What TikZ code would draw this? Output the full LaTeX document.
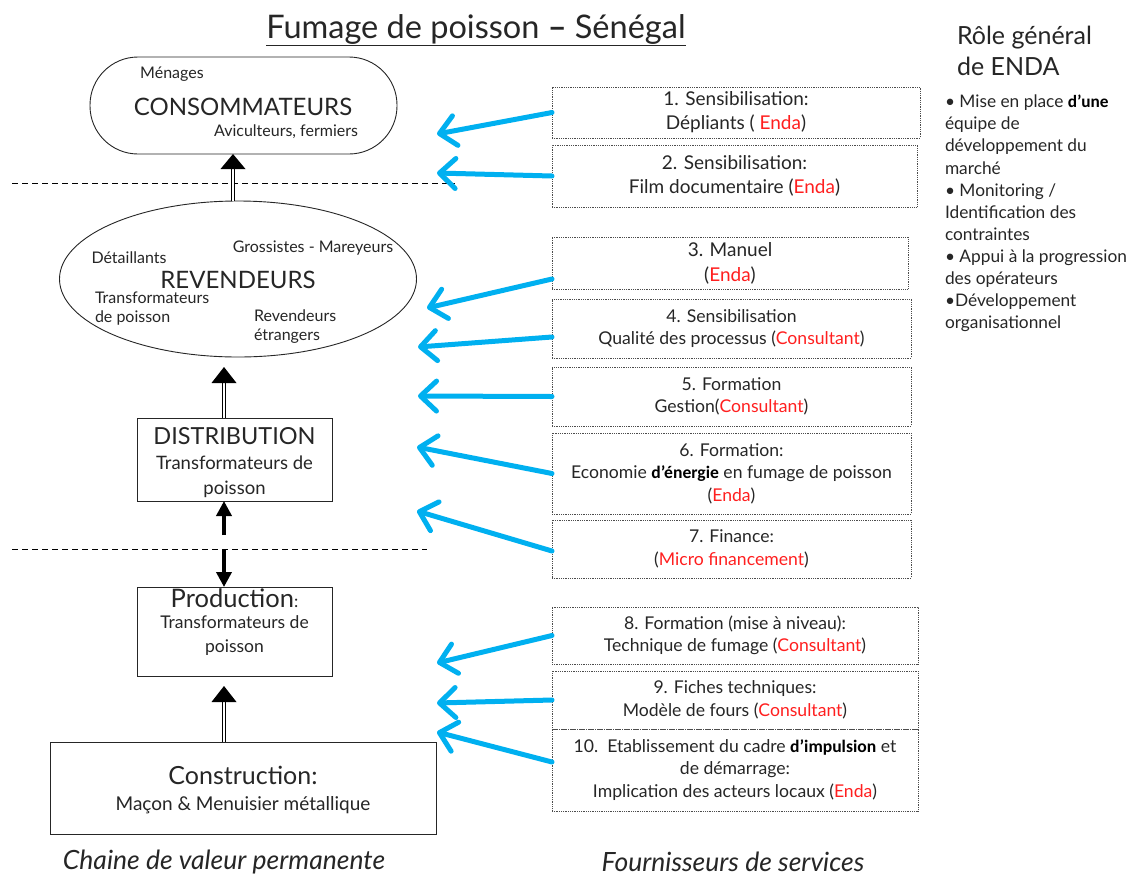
\documentclass[tikz,border=0pt]{standalone}
\usepackage{fontspec}
\setmainfont{Lato}
\newfontfamily\calfont{Carlito}
\usetikzlibrary{arrows.meta,shapes.geometric,calc}
\definecolor{txt}{HTML}{262626}
\definecolor{sky}{HTML}{00B0F0}
\definecolor{redt}{HTML}{FF1F1F}
\newcommand{\fsz}[2]{\fontsize{#1}{#2}\selectfont}
\newcommand{\rd}[1]{\textcolor{redt}{#1}}
\newcommand{\bk}[1]{{\calfont\bfseries\color{black}#1}}
\begin{document}
\begin{tikzpicture}[x=1pt,y=-1pt,
  every node/.style={text=txt, inner sep=0pt, outer sep=0pt},
  svcbox/.style={draw=black!70, densely dotted, line width=0.8pt, align=center, font=\fsz{17.6}{22.5}},
  bigsvc/.style={font=\fsz{19}{24}},
  chainbox/.style={draw=black!85, line width=0.9pt},
  feedarrow/.style={draw=sky, line width=5pt, line cap=round,
     -{Straight Barb[length=16pt,width=30pt,line cap=round,line join=round]}},
  dblline/.style={draw=black, double=white, double distance=2.6pt, line width=0.8pt},
  sepline/.style={draw=black, dash pattern=on 6pt off 4pt, line width=0.8pt},
  boldarrow/.style={draw=black, line width=3.6pt, -{Triangle[length=15pt,width=15pt]}},
  lbl/.style={font=\fsz{16}{20}},
  rlbl/.style={font=\fsz{16}{20}, anchor=west}]
\useasboundingbox (0,0) rectangle (1128,879);
\fill[white] (0,0) rectangle (1128,879);

% title
\node[font=\fsz{32.5}{36}] (title) at (476,30) {\underline{Fumage de poisson \textbf{--} Sénégal}};

% value chain
\node[chainbox, rounded corners=48pt, minimum width=307pt, minimum height=97pt] (cons) at (243.5,105.5) {};
\node[lbl] (men) at (172,74) {Ménages};
\node[font=\fsz{24}{28}] (ctitle) at (243,107) {CONSOMMATEURS};
\node[lbl] (avi) at (286,132) {Aviculteurs, fermiers};

\node[chainbox, ellipse, minimum width=357pt, minimum height=156pt] (rev) at (238,279) {};
\node[lbl] (det) at (129,258) {Détaillants};
\node[lbl] (gro) at (313,248) {Grossistes - Mareyeurs};
\node[font=\fsz{24}{28}] (rtitle) at (238,280) {REVENDEURS};
\node[rlbl] (tr1) at (95,298) {Transformateurs};
\node[rlbl] (tr2) at (95,318) {de poisson};
\node[rlbl] (re1) at (254,316) {Revendeurs};
\node[rlbl] (re2) at (254,336) {étrangers};

\node[chainbox, minimum width=195pt, minimum height=83pt] (dist) at (234.5,459.5) {};
\node[font=\fsz{23.5}{26}] (dtitle) at (234.5,436) {DISTRIBUTION};
\node[font=\fsz{18.5}{25}, align=center] (dtext) at (234.5,477) {Transformateurs de\\poisson};

\node[chainbox, minimum width=195pt, minimum height=89pt] (prod) at (234.5,631.5) {};
\node (ptitle) at (234.5,598) {{\fsz{25.5}{28}Production}{\fsz{17}{20}:}};
\node[font=\fsz{17.5}{24}, align=center] (ptext) at (234.5,636) {Transformateurs de\\poisson};

\node[chainbox, minimum width=386pt, minimum height=92pt] (constr) at (243,788) {};
\node[font=\fsz{25}{28}] (cotitle) at (243,775) {Construction:};
\node[font=\fsz{19}{22}] (cotext) at (243,805) {Maçon \& Menuisier métallique};

% separators
\coordinate (s1a) at (12,183); \coordinate (s1b) at (455,183);
\coordinate (s2a) at (12,549); \coordinate (s2b) at (427,549);
\draw[sepline] (s1a) -- (s1b);
\draw[sepline] (s2a) -- (s2b);

% chain arrows
\coordinate (ax1) at (233,0);
\coordinate (ax2) at (224,0);
\draw[dblline] (ax1 |- rev.north) -- ($(ax1 |- cons.south)+(0,14)$);
\fill[black] (ax1 |- cons.south) -- ++(-12.5,15) -- ++(25,0) -- cycle;

\draw[dblline] (ax2 |- dist.north) -- ($(ax2 |- rev.south)+(0,15)$);
\fill[black] ($(ax2 |- rev.south)+(0,10)$) -- ++(-12.5,16) -- ++(25,0) -- cycle;

\draw[dblline] (ax2 |- constr.north) -- ($(ax2 |- prod.south)+(0,25)$);
\fill[black] ($(ax2 |- prod.south)+(0,10)$) -- ++(-12.5,16) -- ++(25,0) -- cycle;

\coordinate (up0) at (224,535);
\coordinate (dn0) at (224,550);
\draw[boldarrow] (up0) -- (ax2 |- dist.south);
\draw[boldarrow] (dn0) -- (ax2 |- prod.north);

% service boxes
\node[svcbox, bigsvc, minimum width=368pt, minimum height=51pt] (b1) at (736,112.5) {1. Sensibilisation:\\Dépliants ( \rd{Enda})};
\node[svcbox, bigsvc, minimum width=365pt, minimum height=62pt] (b2) at (734.5,176) {2. Sensibilisation:\\Film documentaire (\rd{Enda})};
\node[svcbox, bigsvc, minimum width=356pt, minimum height=52pt, font=\fsz{19}{25}] (b3) at (730,263) {3. Manuel\\(\rd{Enda})};
\node[svcbox, minimum width=359pt, minimum height=59pt] (b4) at (731.5,328.5) {4. Sensibilisation\\Qualité des processus (\rd{Consultant})};
\node[svcbox, minimum width=359pt, minimum height=59pt] (b5) at (731.5,396.5) {5. Formation\\Gestion(\rd{Consultant})};
\node[svcbox, minimum width=359pt, minimum height=81pt] (b6) at (731.5,473.5) {6. Formation:\\Economie \bk{d’énergie} en fumage de poisson\\(\rd{Enda})};
\node[svcbox, minimum width=359pt, minimum height=58pt] (b7) at (731.5,549) {7. Finance:\\(\rd{Micro financement})};
\node[svcbox, minimum width=366pt, minimum height=57pt] (b8) at (735,635.5) {8. Formation (mise à niveau):\\Technique de fumage (\rd{Consultant})};
\node[svcbox, minimum width=366pt, minimum height=58pt] (b9) at (735,700) {9. Fiches techniques:\\Modèle de fours (\rd{Consultant})};
\node[svcbox, minimum width=366pt, minimum height=82pt] (b10) at (735,770) {10.\ \ Etablissement du cadre \bk{d’impulsion} et\\de démarrage:\\Implication des acteurs locaux (\rd{Enda})};

% feed arrows
\coordinate (t1) at (437,134);
\coordinate (t2) at (437,173);
\coordinate (t3) at (427,308);
\coordinate (t4) at (418,347);
\coordinate (t5) at (418,396);
\coordinate (t6) at (417,447);
\coordinate (t7) at (417,511);
\coordinate (t8) at (437,663);
\coordinate (t9) at (437,703);
\coordinate (t10) at (437,732);
\draw[feedarrow] (b1.west) -- (t1);
\draw[feedarrow] (b2.west) -- (t2);
\draw[feedarrow] ([yshift=-16pt]b3.west) -- (t3);
\draw[feedarrow] ([yshift=-8.5pt]b4.west) -- (t4);
\draw[feedarrow] (b5.west) -- (t5);
\draw[feedarrow] (b6.west) -- (t6);
\draw[feedarrow] ([yshift=-2pt]b7.west) -- (t7);
\draw[feedarrow] (b8.west) -- (t8);
\draw[feedarrow] (b9.west) -- (t9);
\draw[feedarrow] ([yshift=8pt]b10.west) -- (t10);

% role of ENDA
\node[anchor=north west, align=left, font=\fsz{25}{31}] (role) at (957,26) {Rôle général\\de ENDA};
\node[anchor=north west, align=left, font=\fsz{17.3}{22.1}] (rolelist) at (945,95) {• Mise en place \bk{d’une}\\équipe de\\développement du\\marché\\• Monitoring /\\Identification des\\contraintes\\• Appui à la progression\\des opérateurs\\•Développement\\organisationnel};

% bottom captions
\node[font=\fsz{26.5}{30}\itshape] (cap1) at (224,862) {Chaine de valeur permanente};
\node[font=\fsz{26.5}{30}\itshape] (cap2) at (733,862) {Fournisseurs de services};
\end{tikzpicture}
\end{document}
